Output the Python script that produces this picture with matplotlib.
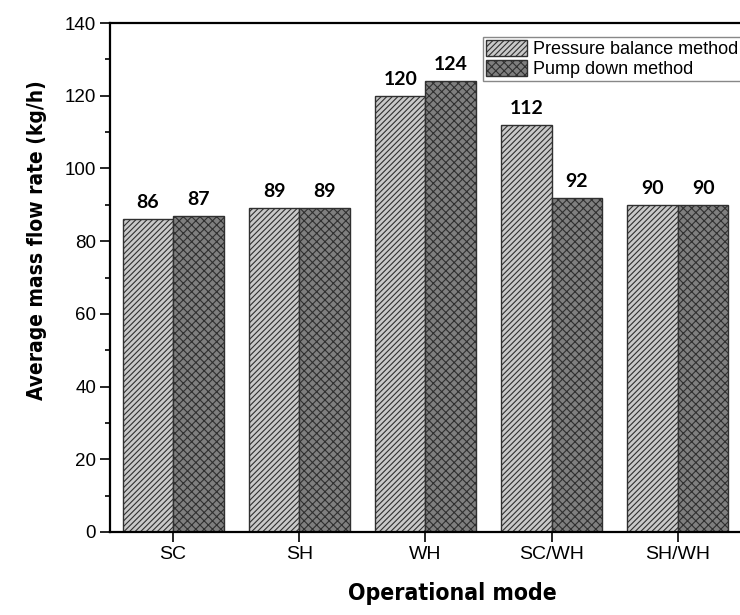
import numpy as np
import matplotlib.pyplot as plt
from matplotlib.ticker import MultipleLocator

# Average mass flow rate per operational mode
modos = ['SC', 'SH', 'WH', 'SC/WH', 'SH/WH']
presion = [86, 89, 120, 112, 90]
bombeo = [87, 89, 124, 92, 90]

plt.rcParams['hatch.linewidth'] = 0.8

fig = plt.figure(figsize=(7.4, 6.15), dpi=100)
# el eje sigue un poco más allá del borde derecho de la figura
ax = fig.add_axes([110 / 740, 1 - 532 / 615, 684 / 740, 509 / 615])

x = np.arange(len(modos))
ancho = 0.4
b1 = ax.bar(x - ancho / 2, presion, ancho, color='#c9c9c9', edgecolor='#303030',
            hatch='//////', linewidth=1.0, label='Pressure balance method')
b2 = ax.bar(x + ancho / 2, bombeo, ancho, color='#7f7f7f', edgecolor='#303030',
            hatch='xxxx', linewidth=1.0, label='Pump down method')

# valores encima de cada barra
for barras, valores in ((b1, presion), (b2, bombeo)):
    for b, v in zip(barras, valores):
        ax.text(b.get_x() + b.get_width() / 2, v + 2.2, str(v), ha='center', va='bottom',
                fontsize=14, fontweight='bold', family='Lato')

ax.set_xlim(-0.5, 4.92)
ax.set_ylim(0, 140)
ax.set_xticks(x)
ax.set_xticklabels(modos, family='Liberation Sans', fontsize=14)
ax.yaxis.set_major_locator(MultipleLocator(20))
ax.yaxis.set_minor_locator(MultipleLocator(10))
for lab in ax.get_yticklabels():
    lab.set_family('Liberation Sans')
    lab.set_fontsize(13.5)
ax.tick_params(axis='both', which='major', direction='out', length=7, width=1.2, pad=3)
ax.tick_params(axis='y', which='minor', direction='out', length=3.5, width=1.2)
for s in ('left', 'top', 'bottom', 'right'):
    ax.spines[s].set_linewidth(1.6)

ax.set_ylabel('Average mass flow rate (kg/h)', family='DejaVu Sans', fontstretch='condensed',
              fontweight='bold', fontsize=15)
ax.set_xlabel('Operational mode', family='DejaVu Sans', fontstretch='condensed',
              fontweight='bold', fontsize=16.5)
ax.yaxis.set_label_coords(-0.092, 0.574)
ax.xaxis.set_label_coords(0.5, -0.098)

leg = ax.legend(loc='upper left', bbox_to_anchor=(483 / 740, 1 - 37 / 615),
                bbox_transform=fig.transFigure,
                prop={'family': 'Liberation Sans', 'size': 13}, fancybox=False,
                edgecolor='#888888', framealpha=1, handlelength=2.3, handleheight=1.0,
                handletextpad=0.3, borderpad=0.15, labelspacing=0.1, borderaxespad=0.0)
leg.get_frame().set_linewidth(1.0)

fig.savefig('out.png', dpi=100)
